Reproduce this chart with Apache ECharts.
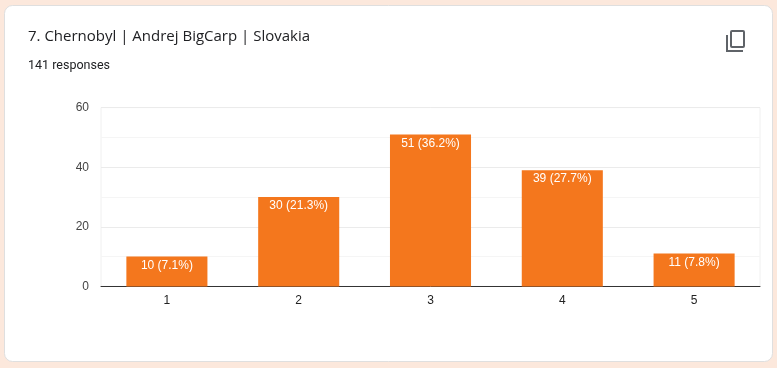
<!DOCTYPE html>
<html>
<head>
<meta charset="utf-8">
<style>html,body{margin:0;padding:0;background:#fce8dc;}#c{width:777px;height:368px;}</style>
<script src="https://cdn.jsdelivr.net/npm/echarts@6/dist/echarts.min.js"></script>
</head>
<body>
<div id="c"></div>
<script>
var categories = ['1', '2', '3', '4', '5'];
var counts = [10, 30, 51, 39, 11];
var shares = ['7.1%', '21.3%', '36.2%', '27.7%', '7.8%'];
var titleText = '7. Chernobyl | Andrej BigCarp | Slovakia';
var subtitleText = '141 responses';

var chart = echarts.init(document.getElementById('c'), null, {renderer: 'canvas'});
chart.setOption({
  animation: false,
  backgroundColor: '#fce8dc',
  title: {
    text: titleText, subtext: subtitleText, left: 28, top: 29, padding: 0, itemGap: 15,
    textStyle: {fontFamily: 'Open Sans', fontSize: 15, fontWeight: 400, color: '#202124'},
    subtextStyle: {fontFamily: 'Roboto', fontSize: 12.5, color: '#202124'}
  },
  graphic: [
    {type: 'rect', z: -10, silent: true,
     shape: {x: 4.5, y: 5.5, width: 768, height: 356, r: 8},
     style: {fill: '#ffffff', stroke: '#dfdfdf', lineWidth: 1}},
    {type: 'rect', z: 5, silent: true,
     shape: {x: 731, y: 31, width: 13, height: 16, r: 1},
     style: {fill: 'none', stroke: '#5f6368', lineWidth: 2}},
    {type: 'polyline', z: 5, silent: true,
     shape: {points: [[727, 35], [727, 51], [743, 51]]},
     style: {fill: 'none', stroke: '#5f6368', lineWidth: 2}}
  ],
  grid: {left: 101, right: 17, top: 107.6, bottom: 81.6, containLabel: false, show: true, borderColor: '#f0f0f0', borderWidth: 1},
  xAxis: {
    type: 'category', data: categories,
    axisTick: {show: false},
    axisLine: {lineStyle: {color: '#333333', width: 1}},
    axisLabel: {fontFamily: 'Liberation Sans', fontSize: 12, color: '#222222', margin: 8}
  },
  yAxis: {
    type: 'value', min: 0, max: 60, interval: 20,
    axisLine: {show: false}, axisTick: {show: false},
    axisLabel: {fontFamily: 'Liberation Sans', fontSize: 12, color: '#444444', margin: 12, padding: [3, 0, 0, 0]},
    splitLine: {show: true, lineStyle: {color: '#ebebeb', width: 1}},
    minorTick: {show: false, splitNumber: 2},
    minorSplitLine: {show: true, lineStyle: {color: '#f5f5f5', width: 1}}
  },
  series: [{
    type: 'bar', data: counts, barWidth: '61.5%',
    itemStyle: {color: '#f4771d'},
    label: {
      show: true, position: 'insideTop', distance: 3,
      fontFamily: 'Liberation Sans', fontSize: 12, color: '#ffffff',
      formatter: function (p) { return p.value + ' (' + shares[p.dataIndex] + ')'; }
    }
  }]
});
</script>
</body>
</html>
